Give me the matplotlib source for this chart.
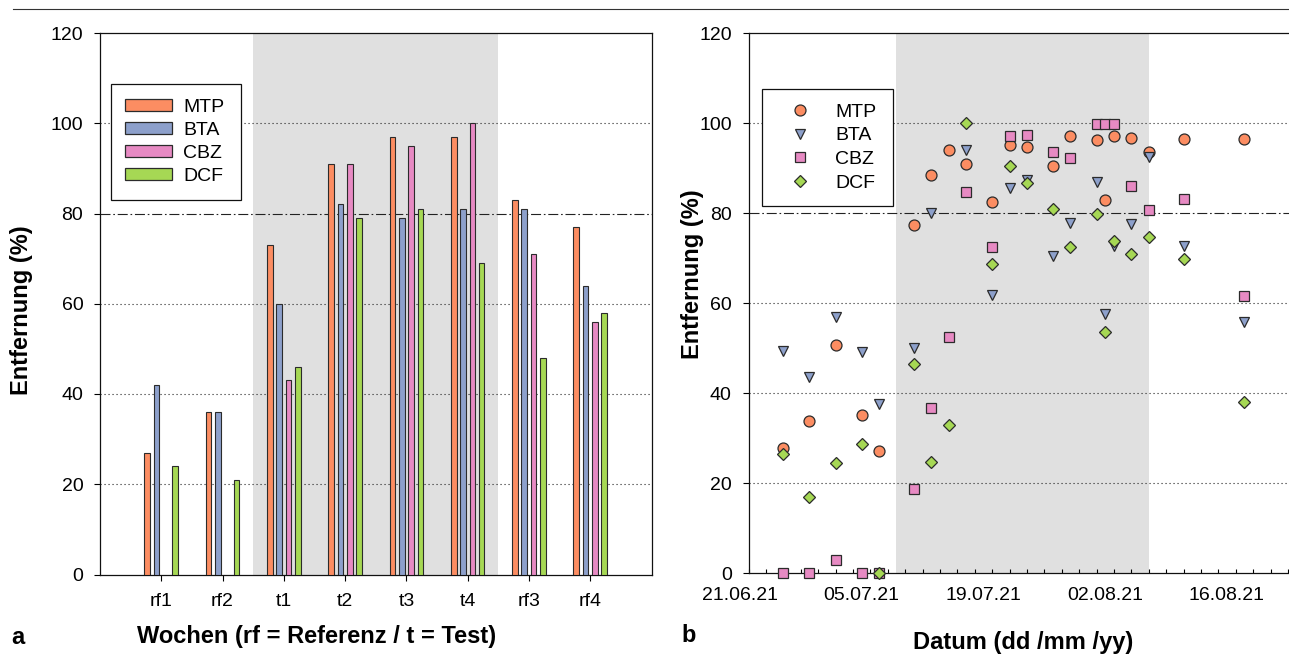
import matplotlib
matplotlib.use("Agg")
import matplotlib.pyplot as plt
import matplotlib.dates as mdates
from matplotlib.lines import Line2D
from matplotlib.patches import Patch
import numpy as np
import datetime as dt

plt.rcParams['font.family'] = ['Liberation Sans', 'DejaVu Sans']

# ---------------- data ----------------
weeks = ['rf1', 'rf2', 't1', 't2', 't3', 't4', 'rf3', 'rf4']
compounds = ['MTP', 'BTA', 'CBZ', 'DCF']
colors = ['#FC8D62', '#8DA0CB', '#E78AC3', '#A6D854']

mtp_week = [27, 36, 73, 91, 97, 97, 83, 77]
bta_week = [42, 36, 60, 82, 79, 81, 81, 64]
cbz_week = [np.nan, np.nan, 43, 91, 95, 100, 71, 56]
dcf_week = [24, 21, 46, 79, 81, 69, 48, 58]

dates = ['2021-06-26', '2021-06-29', '2021-07-02', '2021-07-05', '2021-07-07',
         '2021-07-11', '2021-07-13', '2021-07-15', '2021-07-17', '2021-07-20',
         '2021-07-22', '2021-07-24', '2021-07-27', '2021-07-29', '2021-08-01',
         '2021-08-02', '2021-08-03', '2021-08-05', '2021-08-07', '2021-08-11',
         '2021-08-18']
nan = np.nan
mtp = [27.8, 33.9, 50.6, 35.2, 27.2, 77.3, 88.4, 94.1, 90.9, 82.4, 95.2, 94.7,
       90.4, 97.2, 96.3, 83.0, 97.2, 96.7, 93.5, 96.5, 96.4]
bta = [49.4, 43.7, 57.0, 49.2, 37.6, 50.0, 80.1, nan, 94.1, 61.8, 85.6, 87.4,
       70.5, 77.8, 86.8, 57.6, 72.6, 77.6, 92.4, 72.7, 55.8]
cbz = [0, 0, 3.0, 0, 0, 18.7, 36.7, 52.4, 84.7, 72.5, 97.2, 97.4,
       93.6, 92.2, 99.8, 99.8, 99.8, 86.1, 80.6, 83.1, 61.6]
dcf = [26.4, 17.0, 24.6, 28.7, 0, 46.5, 24.8, 33.0, 100, 68.7, 90.4, 86.7,
       80.9, 72.5, 79.8, 53.5, 73.8, 71.0, 74.8, 69.8, 38.1]

date_ticks = ['2021-06-21', '2021-07-05', '2021-07-19', '2021-08-02', '2021-08-16']
test_period = ('2021-07-09', '2021-08-07')
threshold = 80
grid_vals = [20, 40, 60, 100]

# ---------------- layout helpers ----------------
W, H = 1289, 655
fig = plt.figure(figsize=(W / 100, H / 100), dpi=100)


def box(x0, y0, x1, y1):
    return [x0 / W, 1 - y1 / H, (x1 - x0) / W, (y1 - y0) / H]


def fpos(x, y):
    return x / W, 1 - y / H


def fbox(x0, y0, x1, y1):
    return (x0 / W, 1 - y1 / H, (x1 - x0) / W, (y1 - y0) / H)


EDGE = '#2b2b2b'
GRAY = '#e0e0e0'
TICK_FS = 14
LAB_FS = 17
dot_ls = (0, (1, 2.6))
dashdot_ls = (0, (9, 2.5, 1.5, 2.5))

# top rule
fig.add_artist(Line2D([12.6 / W, 1.0], [1 - 9.3 / H] * 2, transform=fig.transFigure,
                      color='#333333', lw=0.8))

# ================= panel a =================
ax1 = fig.add_axes(box(100, 33, 651.5, 574.5))
x = np.arange(len(weeks))
series = [mtp_week, bta_week, cbz_week, dcf_week]
step = 0.152
bw = 0.092
for i, (vals, c) in enumerate(zip(series, colors)):
    v = np.array(vals, dtype=float)
    m = ~np.isnan(v)
    ax1.bar(x[m] + (i - 1.5) * step, v[m], width=bw, color=c,
            edgecolor=EDGE, linewidth=0.8, zorder=3)
ax1.axvspan(1.5, 5.5, color=GRAY, zorder=0, lw=0)
for g in grid_vals:
    ax1.axhline(g, color='#222222', lw=0.8, ls=dot_ls, zorder=1.5)
ax1.axhline(threshold, color='#222222', lw=0.8, ls=dashdot_ls, zorder=1.5)
ax1.set_xlim(-1, 8)
ax1.set_ylim(0, 120)
ax1.set_yticks(np.arange(0, 121, 20))
ax1.set_xticks(x)
ax1.set_xticklabels(weeks)
ax1.tick_params(axis='y', direction='out', length=4, width=0.8, pad=8, labelsize=TICK_FS)
ax1.tick_params(axis='x', direction='out', length=4.5, width=0.8, pad=9, labelsize=TICK_FS)
for s in ax1.spines.values():
    s.set_linewidth(0.9)
    s.set_color('#111111')

handles1 = [Patch(facecolor=c, edgecolor=EDGE, linewidth=0.9, label=n)
            for c, n in zip(colors, compounds)]
leg1 = ax1.legend(handles=handles1, loc='upper left',
                  bbox_to_anchor=fbox(110.7, 84.2, 241.2, 200.8),
                  bbox_transform=fig.transFigure, mode='expand',
                  borderaxespad=0, fontsize=TICK_FS, frameon=True, fancybox=False,
                  edgecolor='#111111', framealpha=1, borderpad=0.75,
                  handlelength=2.38, handleheight=0.6, handletextpad=0.6,
                  labelspacing=0.31)
leg1.get_frame().set_linewidth(0.9)

fig.text(*fpos(22, 310), 'Entfernung (%)', rotation=90, ha='center', va='center',
         fontsize=LAB_FS, fontweight='bold')
fig.text(*fpos(317, 636), 'Wochen (rf = Referenz / t = Test)', ha='center',
         va='center', fontsize=LAB_FS, fontweight='bold')
fig.text(*fpos(17.7, 638), 'a', ha='center', va='center', fontsize=LAB_FS,
         fontweight='bold')

# ================= panel b =================
d = [dt.datetime.strptime(s, '%Y-%m-%d') for s in dates]
x0 = mdates.date2num(dt.datetime(2021, 6, 21))
xs = mdates.date2num(dt.datetime(2021, 6, 22))
x_end = mdates.date2num(dt.datetime(2021, 8, 24))
ax2 = fig.add_axes(box(739.8, 33, 1296.6, 573.3))
ax2.set_facecolor('none')
ax2.set_xlim(x0, x_end)
ax2.set_ylim(0, 120)
ax2.axvspan(mdates.date2num(dt.datetime.strptime(test_period[0], '%Y-%m-%d')),
            mdates.date2num(dt.datetime.strptime(test_period[1], '%Y-%m-%d')),
            color=GRAY, zorder=0, lw=0)
ax2.hlines(grid_vals, xs, x_end, color='#222222', lw=0.8, linestyles=[dot_ls], zorder=1.5)
ax2.hlines([threshold], xs, x_end, color='#222222', lw=0.8, linestyles=[dashdot_ls], zorder=1.5)

markers = ['o', 'v', 's', 'D']
msizes = [7.9, 7.9, 6.7, 6.1]
for vals, c, mk, ms, n in zip([mtp, bta, cbz, dcf], colors, markers, msizes, compounds):
    ax2.plot(d, vals, ls='none', marker=mk, ms=ms, mfc=c, mec=EDGE, mew=0.9,
             label=n, zorder=3, clip_on=False)

ax2.spines['left'].set_position(('data', xs))
ax2.spines['bottom'].set_bounds(xs, x_end)
ax2.spines['top'].set_bounds(xs, x_end)
ax2.spines['right'].set_visible(False)
for s in ax2.spines.values():
    s.set_linewidth(0.9)
    s.set_color('#111111')

ax2.set_xticks([mdates.date2num(dt.datetime.strptime(s, '%Y-%m-%d')) for s in date_ticks])
ax2.xaxis.set_major_formatter(mdates.DateFormatter('%d.%m.%y'))
ax2.set_xticks(np.arange(xs, x_end, 2), minor=True)
ax2.tick_params(axis='x', which='major', length=0, pad=10, labelsize=TICK_FS)
ax2.tick_params(axis='x', which='minor', direction='in', length=3, width=0.8)
ax2.set_yticks(np.arange(0, 121, 20))
ax2.tick_params(axis='y', direction='out', length=4, width=0.8, pad=8, labelsize=TICK_FS)

leg2 = ax2.legend(loc='upper left', bbox_to_anchor=fbox(762.4, 88.6, 892.7, 204.7),
                  bbox_transform=fig.transFigure, mode='expand', borderaxespad=0,
                  fontsize=TICK_FS, frameon=True, fancybox=False,
                  edgecolor='#111111', framealpha=1, borderpad=0.75,
                  handlelength=2.4, handletextpad=0.6, labelspacing=0.31,
                  numpoints=1)
leg2.get_frame().set_linewidth(0.9)

fig.text(*fpos(693, 274), 'Entfernung (%)', rotation=90, ha='center', va='center',
         fontsize=LAB_FS, fontweight='bold')
fig.text(*fpos(1023, 643), 'Datum (dd /mm /yy)', ha='center', va='center',
         fontsize=LAB_FS, fontweight='bold')
fig.text(*fpos(689, 636), 'b', ha='center', va='center', fontsize=LAB_FS,
         fontweight='bold')

fig.savefig('out.png', dpi=100)
